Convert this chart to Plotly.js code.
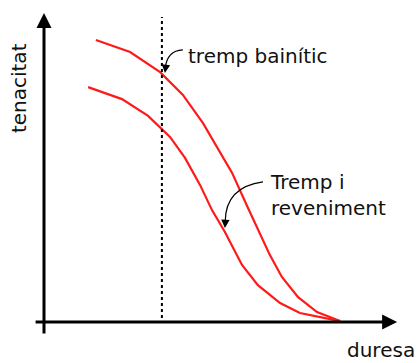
<!DOCTYPE html>
<html>
<head>
<meta charset="utf-8">
<script src="https://cdn.plot.ly/plotly-3.0.1.min.js"></script>
<style>
  html, body { margin: 0; padding: 0; background: #fff; }
  #chart { width: 418px; height: 363px; }
</style>
</head>
<body>
<div id="chart"></div>
<script>
// Schematic: toughness (tenacitat) against hardness (duresa), arbitrary units.
const bainiticHardness = [17.3, 28.7, 38.7, 46.3, 53.0, 58.7, 62.7, 68.0, 72.0, 75.3, 79.3, 84.7, 91.0, 98.7];
const bainiticToughness = [94.0, 90.0, 83.3, 75.7, 66.3, 56.7, 49.7, 38.0, 29.7, 22.3, 15.0, 8.3, 3.3, 0.3];

const temperedHardness = [14.7, 26.0, 34.7, 42.0, 47.0, 52.0, 56.0, 60.3, 66.0, 71.3, 78.7, 85.3, 98.7];
const temperedToughness = [78.3, 74.3, 68.7, 61.7, 54.7, 45.7, 37.3, 30.0, 19.0, 12.3, 6.3, 3.0, 0.3];

// Reference hardness marked by the dotted vertical line
const markerHardness = 39.3;
const markerRange = [1.3, 101.7];

const labels = {
  x: 'duresa',
  y: 'tenacitat',
  bainitic: 'tremp bainític',
  tempered: 'Tremp i<br>reveniment'
};

const font = { family: 'DejaVu Sans, sans-serif', size: 20, color: '#111' };
const red = '#ff1a1a';

const traces = [
  { x: bainiticHardness, y: bainiticToughness, type: 'scatter', mode: 'lines',
    line: { color: red, width: 2.2 }, hoverinfo: 'skip' },
  { x: temperedHardness, y: temperedToughness, type: 'scatter', mode: 'lines',
    line: { color: red, width: 2.2 }, hoverinfo: 'skip' }
];

const shapes = [
  { type: 'line', xref: 'x', yref: 'y', x0: markerHardness, x1: markerHardness,
    y0: markerRange[0], y1: markerRange[1], line: { color: '#000', width: 2, dash: 'dot' } },
  // curved leader lines for the two labels
  { type: 'path', xref: 'x', yref: 'y', path: 'M 46.3,90.7 Q 41,90.5 40.4,84.5',
    line: { color: '#000', width: 1.2 } },
  { type: 'path', xref: 'x', yref: 'y', path: 'M 73,46.7 Q 60.5,45 60.4,33.5',
    line: { color: '#000', width: 1.2 } }
];

const annotations = [
  // y axis with arrow
  { x: 0, y: 103, ax: 0, ay: -4.3, xref: 'x', yref: 'y', axref: 'x', ayref: 'y',
    showarrow: true, arrowhead: 2, arrowwidth: 3, arrowsize: 1, arrowcolor: '#000', text: '' },
  // x axis with arrow
  { x: 117.7, y: 0, ax: -3.3, ay: 0, xref: 'x', yref: 'y', axref: 'x', ayref: 'y',
    showarrow: true, arrowhead: 2, arrowwidth: 3, arrowsize: 1, arrowcolor: '#000', text: '' },
  // arrowheads of the leader lines
  { x: 40.3, y: 83, ax: 1, ay: -8, xref: 'x', yref: 'y',
    showarrow: true, arrowhead: 2, arrowwidth: 1.2, arrowsize: 1.4, arrowcolor: '#000', text: '' },
  { x: 60.3, y: 31.3, ax: 0.5, ay: -8, xref: 'x', yref: 'y',
    showarrow: true, arrowhead: 2, arrowwidth: 1.2, arrowsize: 1.4, arrowcolor: '#000', text: '' },
  // texts
  { x: 47.3, y: 88.7, xref: 'x', yref: 'y', text: labels.bainitic, showarrow: false,
    xanchor: 'left', yanchor: 'middle', font: font },
  { x: 74.7, y: 42.3, xref: 'x', yref: 'y', text: labels.tempered, showarrow: false,
    xanchor: 'left', yanchor: 'middle', align: 'left', font: font },
  { x: -8.3, y: 78, xref: 'x', yref: 'y', text: labels.y, showarrow: false,
    textangle: -90, xanchor: 'center', yanchor: 'middle', font: font },
  { x: 112.3, y: -13.6, xref: 'x', yref: 'y', text: labels.x, showarrow: false,
    xanchor: 'center', yanchor: 'bottom', borderpad: 0, font: font }
];

const layout = {
  width: 418, height: 363,
  margin: { l: 0, r: 0, t: 0, b: 0 },
  paper_bgcolor: '#fff', plot_bgcolor: '#fff',
  showlegend: false,
  xaxis: { range: [-14.667, 124.667], visible: false, fixedrange: true },
  yaxis: { range: [-13.667, 107.333], visible: false, fixedrange: true },
  shapes: shapes,
  annotations: annotations
};

Plotly.newPlot('chart', traces, layout, { staticPlot: true, displayModeBar: false });
</script>
</body>
</html>
